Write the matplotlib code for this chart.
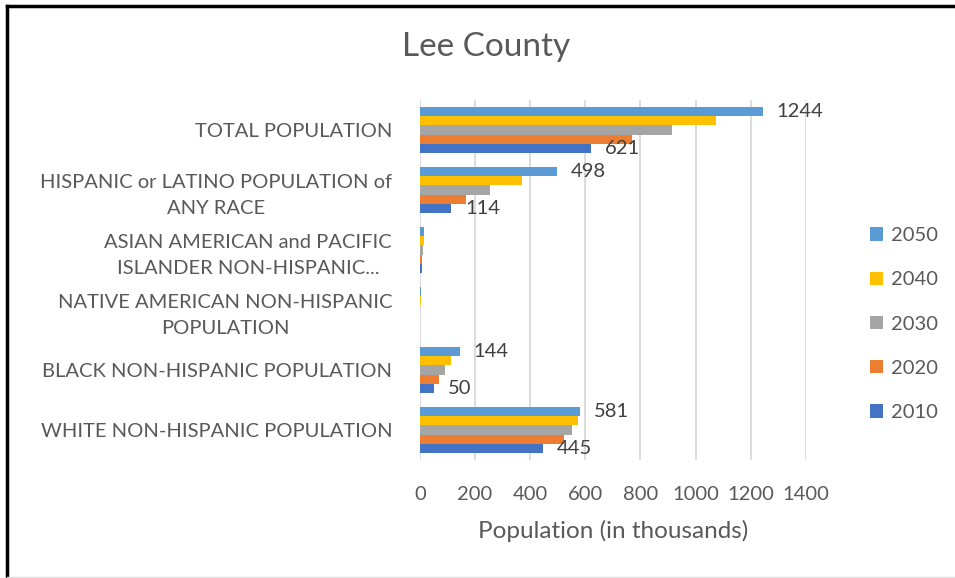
import numpy as np
import matplotlib.pyplot as plt
from matplotlib.lines import Line2D

categories = ["TOTAL POPULATION",
              "HISPANIC or LATINO POPULATION of\nANY RACE",
              "ASIAN AMERICAN and PACIFIC\nISLANDER NON-HISPANIC...",
              "NATIVE AMERICAN NON-HISPANIC\nPOPULATION",
              "BLACK NON-HISPANIC POPULATION",
              "WHITE NON-HISPANIC POPULATION"]
years = ["2050", "2040", "2030", "2020", "2010"]
pop_2050 = [1244, 498, 16, 2, 144, 581]
pop_2040 = [1074, 371, 14, 2, 113, 574]
pop_2030 = [916, 255, 11, 1, 91, 551]
pop_2020 = [771, 167, 9, 1, 70, 522]
pop_2010 = [621, 114, 7, 1, 50, 445]
labeled_years = ["2050", "2010"]
labeled_cats = [0, 1, 4, 5]

colors = {"2050": "#5B9BD5", "2040": "#FFC000", "2030": "#A5A5A5",
          "2020": "#ED7D31", "2010": "#4472C4"}
txt = "#595959"

plt.rcParams['font.family'] = ['Lato', 'DejaVu Sans']

def main():
    series = dict(zip(years, [pop_2050, pop_2040, pop_2030, pop_2020, pop_2010]))
    fig = plt.figure(figsize=(9.55, 5.78), dpi=100)
    ax = fig.add_axes([420 / 955, 118 / 578, 385.7 / 955, 360 / 578])

    y = np.arange(len(categories))
    h = 0.153
    for i, yr in enumerate(years):
        off = (i - 2) * h
        ax.barh(y + off, series[yr], height=h, color=colors[yr], label=yr, zorder=3)
        if yr in labeled_years:
            for c in labeled_cats:
                ax.annotate(str(series[yr][c]), (series[yr][c], y[c] + off),
                            xytext=(10, 0), textcoords='offset points',
                            va='center', ha='left', fontsize=14.5, color="#404040")

    ax.set_ylim(len(categories) - 0.5, -0.5)
    ax.set_xlim(0, 1400)
    ax.set_xticks(np.arange(0, 1401, 200))
    ax.set_yticks(y)
    ax.set_yticklabels(categories, fontsize=14.5, color=txt)
    for lbl in ax.get_yticklabels():
        lbl.set_multialignment('center')
        lbl.set_linespacing(1.6)
    ax.tick_params(axis='y', length=0, pad=20)
    ax.tick_params(axis='x', length=0, pad=19, labelsize=14.5, labelcolor=txt)
    ax.grid(axis='x', color="#D9D9D9", linewidth=1.3, zorder=0)
    for s in ax.spines.values():
        s.set_visible(False)
    ax.set_xlabel("Population (in thousands)", fontsize=17.5, color=txt, labelpad=12)

    fig.text(486 / 955, 1 - 47 / 578, "Lee County",
             ha='center', va='center', fontsize=24, color=txt)

    handles, labels = ax.get_legend_handles_labels()
    fig.legend(handles, labels, loc='center left', bbox_to_anchor=(852 / 955, 1 - 324 / 578),
               frameon=False, fontsize=14.5, labelcolor=txt, handlelength=0.65,
               handleheight=0.65, handletextpad=0.4, labelspacing=1.35)

    fig.add_artist(Line2D([7 / 955, 1], [1 - 6 / 578, 1 - 6 / 578], color='black', lw=2.5))
    fig.add_artist(Line2D([7 / 955, 7 / 955], [0, 1 - 6 / 578], color='black', lw=2.5))
    fig.add_artist(Line2D([7 / 955, 1], [1 / 578, 1 / 578], color='#E0E0E0', lw=1))

    fig.savefig("out.png", dpi=100)

if __name__ == "__main__":
    main()
